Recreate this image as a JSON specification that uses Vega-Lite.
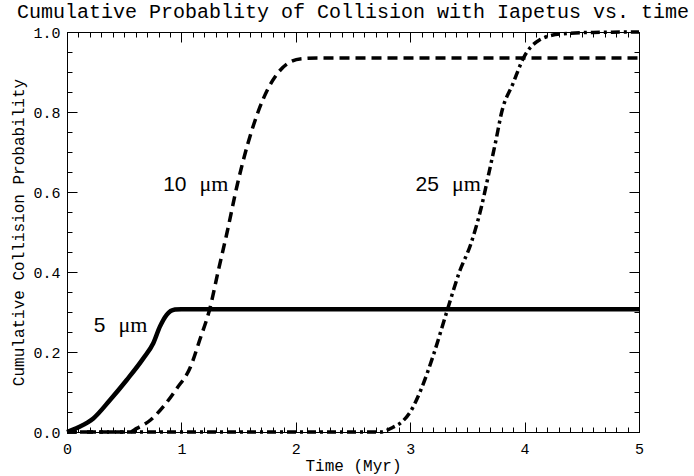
{
  "$schema": "https://vega.github.io/schema/vega-lite/v6.json",
  "width": 572,
  "height": 400,
  "autosize": "none",
  "padding": {"left": 67, "top": 32, "right": 55, "bottom": 44},
  "background": "white",
  "title": {"text": "Cumulative Probablity of Collision with Iapetus vs. time", "font": "Liberation Mono", "fontSize": 20, "fontWeight": "normal", "color": "black", "anchor": "middle", "offset": 3},
  "config": {
    "view": {"stroke": "black", "strokeWidth": 1},
    "axis": {"domain": false, "grid": false, "tickColor": "black", "tickWidth": 1, "labelColor": "black", "labelFont": "Liberation Mono", "labelFontSize": 15, "titleFont": "Liberation Mono", "titleFontSize": 16, "titleFontWeight": "normal", "titleColor": "black", "labelFlush": false, "labelOverlap": false, "labelBound": false}
  },
  "datasets": {
    "d5": [
      {"t": 0, "p": 0}, {"t": 0.1, "p": 0.012}, {"t": 0.23, "p": 0.034}, {"t": 0.376, "p": 0.08}, {"t": 0.522, "p": 0.13}, {"t": 0.667, "p": 0.184}, {"t": 0.754, "p": 0.222}, {"t": 0.813, "p": 0.264}, {"t": 0.871, "p": 0.293}, {"t": 0.944, "p": 0.306}, {"t": 1.0, "p": 0.307}, {"t": 5, "p": 0.307}
    ],
    "d10": [
      {"t": 0, "p": 0}, {"t": 0.55, "p": 0}, {"t": 0.61, "p": 0.009}, {"t": 0.73, "p": 0.03}, {"t": 0.84, "p": 0.063}, {"t": 0.96, "p": 0.109}, {"t": 1.08, "p": 0.163}, {"t": 1.16, "p": 0.23}, {"t": 1.25, "p": 0.31}, {"t": 1.32, "p": 0.4}, {"t": 1.4, "p": 0.5}, {"t": 1.49, "p": 0.62}, {"t": 1.58, "p": 0.72}, {"t": 1.67, "p": 0.8}, {"t": 1.76, "p": 0.86}, {"t": 1.85, "p": 0.9}, {"t": 1.95, "p": 0.925}, {"t": 2.05, "p": 0.933}, {"t": 2.2, "p": 0.935}, {"t": 5, "p": 0.935}
    ],
    "d25": [
      {"t": 0, "p": 0}, {"t": 2.74, "p": 0}, {"t": 2.85, "p": 0.012}, {"t": 2.93, "p": 0.026}, {"t": 3.0, "p": 0.05}, {"t": 3.1, "p": 0.11}, {"t": 3.2, "p": 0.19}, {"t": 3.33, "p": 0.31}, {"t": 3.43, "p": 0.4}, {"t": 3.53, "p": 0.47}, {"t": 3.62, "p": 0.56}, {"t": 3.69, "p": 0.65}, {"t": 3.75, "p": 0.73}, {"t": 3.8, "p": 0.8}, {"t": 3.9, "p": 0.872}, {"t": 3.99, "p": 0.935}, {"t": 4.13, "p": 0.98}, {"t": 4.31, "p": 0.995}, {"t": 4.6, "p": 0.999}, {"t": 5, "p": 1.0}
    ],
    "labels": [
      {"num": "5", "t": 0.389, "p": 0.249},
      {"num": "10", "t": 1.097, "p": 0.6025},
      {"num": "25", "t": 3.304, "p": 0.6025}
    ]
  },
  "resolve": {"axis": {"x": "independent", "y": "independent"}},
  "layer": [
    {
      "data": {"name": "d5"},
      "mark": {"type": "line", "color": "black", "strokeWidth": 4.5, "interpolate": "monotone"},
      "encoding": {
        "x": {"field": "t", "type": "quantitative", "scale": {"domain": [0, 5], "nice": false, "zero": false},
          "axis": {"orient": "bottom", "values": [0, 1, 2, 3, 4, 5], "format": "d", "tickSize": -10, "labelPadding": 19, "title": "Time (Myr)", "titlePadding": 1}},
        "y": {"field": "p", "type": "quantitative", "scale": {"domain": [0, 1], "nice": false},
          "axis": {"orient": "left", "values": [0, 0.2, 0.4, 0.6, 0.8, 1], "format": ".1f", "tickSize": -10, "labelPadding": 17, "title": "Cumulative Collision Probability", "titlePadding": 6}}
      }
    },
    {
      "data": {"name": "d10"},
      "mark": {"type": "line", "color": "black", "strokeWidth": 3.5, "strokeDash": [10, 6], "interpolate": "monotone"},
      "encoding": {
        "x": {"field": "t", "type": "quantitative", "scale": {"domain": [0, 5], "nice": false, "zero": false},
          "axis": {"orient": "bottom", "values": [0, 0.1, 0.2, 0.3, 0.4, 0.5, 0.6, 0.7, 0.8, 0.9, 1, 1.1, 1.2, 1.3, 1.4, 1.5, 1.6, 1.7, 1.8, 1.9, 2, 2.1, 2.2, 2.3, 2.4, 2.5, 2.6, 2.7, 2.8, 2.9, 3, 3.1, 3.2, 3.3, 3.4, 3.5, 3.6, 3.7, 3.8, 3.9, 4, 4.1, 4.2, 4.3, 4.4, 4.5, 4.6, 4.7, 4.8, 4.9, 5], "tickSize": -5, "labels": false, "title": null}},
        "y": {"field": "p", "type": "quantitative", "scale": {"domain": [0, 1], "nice": false},
          "axis": {"orient": "left", "values": [0, 0.05, 0.1, 0.15, 0.2, 0.25, 0.3, 0.35, 0.4, 0.45, 0.5, 0.55, 0.6, 0.65, 0.7, 0.75, 0.8, 0.85, 0.9, 0.95, 1], "tickSize": -5, "labels": false, "title": null}}
      }
    },
    {
      "data": {"name": "d25"},
      "mark": {"type": "line", "color": "black", "strokeWidth": 3.5, "strokeDash": [9, 4, 3, 4], "interpolate": "monotone"},
      "encoding": {
        "x": {"field": "t", "type": "quantitative", "scale": {"domain": [0, 5], "nice": false, "zero": false},
          "axis": {"orient": "top", "values": [0, 1, 2, 3, 4, 5], "tickSize": -10, "labels": false, "title": null}},
        "y": {"field": "p", "type": "quantitative", "scale": {"domain": [0, 1], "nice": false},
          "axis": {"orient": "right", "values": [0, 0.2, 0.4, 0.6, 0.8, 1], "tickSize": -10, "labels": false, "title": null}}
      }
    },
    {
      "data": {"name": "labels"},
      "mark": {"type": "text", "color": "black", "font": "Liberation Sans", "fontSize": 21, "align": "right", "baseline": "alphabetic", "dx": -6},
      "encoding": {
        "x": {"field": "t", "type": "quantitative", "scale": {"domain": [0, 5], "nice": false, "zero": false},
          "axis": {"orient": "top", "values": [0, 0.1, 0.2, 0.3, 0.4, 0.5, 0.6, 0.7, 0.8, 0.9, 1, 1.1, 1.2, 1.3, 1.4, 1.5, 1.6, 1.7, 1.8, 1.9, 2, 2.1, 2.2, 2.3, 2.4, 2.5, 2.6, 2.7, 2.8, 2.9, 3, 3.1, 3.2, 3.3, 3.4, 3.5, 3.6, 3.7, 3.8, 3.9, 4, 4.1, 4.2, 4.3, 4.4, 4.5, 4.6, 4.7, 4.8, 4.9, 5], "tickSize": -5, "labels": false, "title": null}},
        "y": {"field": "p", "type": "quantitative", "scale": {"domain": [0, 1], "nice": false},
          "axis": {"orient": "right", "values": [0, 0.05, 0.1, 0.15, 0.2, 0.25, 0.3, 0.35, 0.4, 0.45, 0.5, 0.55, 0.6, 0.65, 0.7, 0.75, 0.8, 0.85, 0.9, 0.95, 1], "tickSize": -5, "labels": false, "title": null}},
        "text": {"field": "num"}
      }
    },
    {
      "data": {"name": "labels"},
      "mark": {"type": "text", "color": "black", "font": "Liberation Serif", "fontSize": 22, "align": "left", "baseline": "alphabetic", "dx": 7, "text": "μm"},
      "encoding": {
        "x": {"field": "t", "type": "quantitative", "scale": {"domain": [0, 5], "nice": false, "zero": false}, "axis": null},
        "y": {"field": "p", "type": "quantitative", "scale": {"domain": [0, 1], "nice": false}, "axis": null}
      }
    }
  ]
}
